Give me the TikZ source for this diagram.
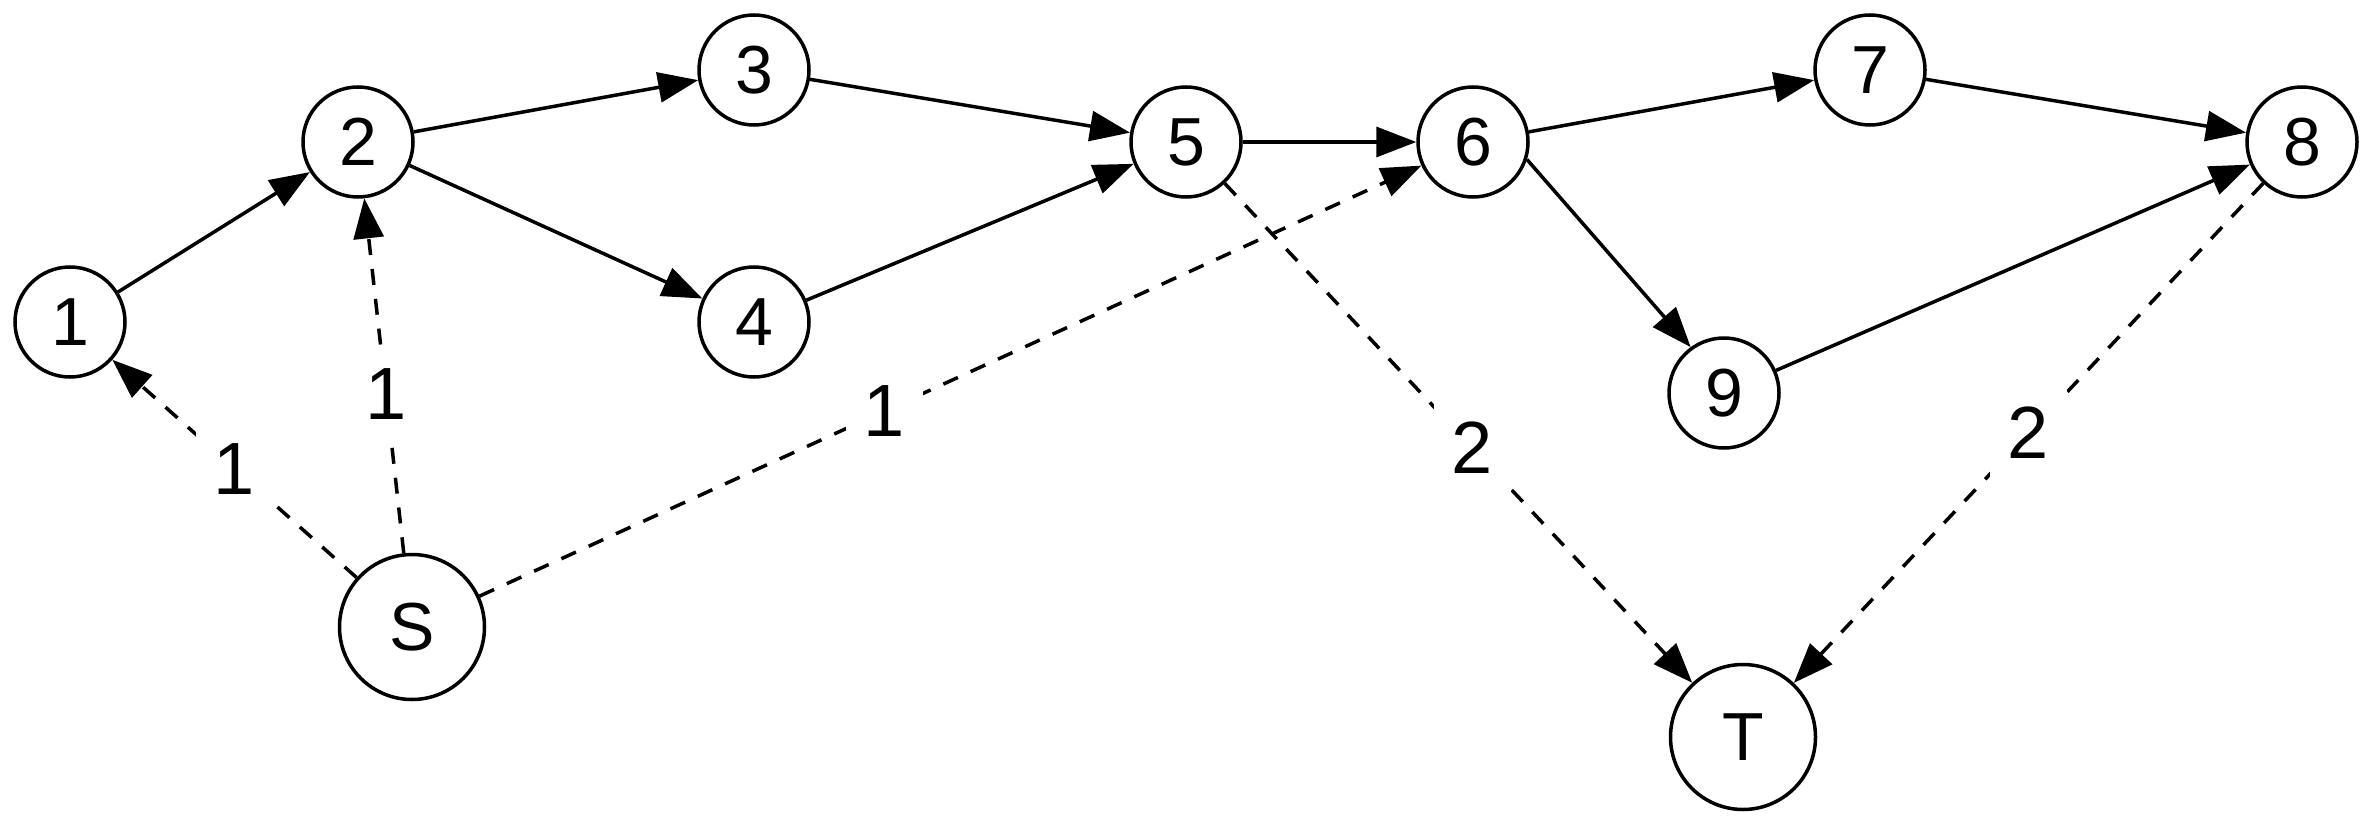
\documentclass[tikz,border=0pt]{standalone}
\usepackage{fontspec}
\setmainfont{Liberation Sans}
\usetikzlibrary{arrows.meta}
\begin{document}
\begin{tikzpicture}[x=1pt,y=-1pt,
  every node/.style={font=\fontsize{68}{72}\selectfont},
  vsmall/.style={circle,draw,line width=3.5pt,minimum size=110pt,inner sep=0pt},
  vbig/.style={circle,draw,line width=3.5pt,minimum size=145pt,inner sep=0pt},
  edge/.style={line width=3.5pt,-{Triangle[length=40pt,width=30pt]}},
  dedge/.style={edge,dash pattern=on 16pt off 14pt},
  elabel/.style={fill=white,inner sep=18pt,font=\fontsize{74}{78}\selectfont}]
\useasboundingbox (0,0) rectangle (2372,824);
\node[vsmall] (n1) at (70,322) {1};
\node[vsmall] (n2) at (358,142) {2};
\node[vsmall] (n3) at (754,70) {3};
\node[vsmall] (n4) at (754,322) {4};
\node[vsmall] (n5) at (1186,142) {5};
\node[vsmall] (n6) at (1473,142) {6};
\node[vsmall] (n7) at (1870,70) {7};
\node[vsmall] (n8) at (2302,142) {8};
\node[vsmall] (n9) at (1724,393) {9};
\node[vbig] (S) at (412,627) {S};
\node[vbig] (T) at (1743,737) {T};
\draw[edge] (n1) -- (n2);
\draw[edge] (n2) -- (n3);
\draw[edge] (n2) -- (n4);
\draw[edge] (n3) -- (n5);
\draw[edge] (n4) -- (n5);
\draw[edge] (n5) -- (n6);
\draw[edge] (n6) -- (n7);
\draw[edge] (n6.-18) -- (n9.126);
\draw[edge] (n7) -- (n8);
\draw[edge] (n9) -- (n8);
\draw[dedge] (S) -- node[elabel] {1} (n1);
\draw[dedge] (S) -- node[elabel,pos=0.45] {1} (n2);
\draw[dedge] (S) -- node[elabel,pos=0.43] {1} (n6);
\draw[dedge] (n5) -- node[elabel,pos=0.53] {2} (T);
\draw[dedge] (n8) -- node[elabel] {2} (T);
\end{tikzpicture}
\end{document}
